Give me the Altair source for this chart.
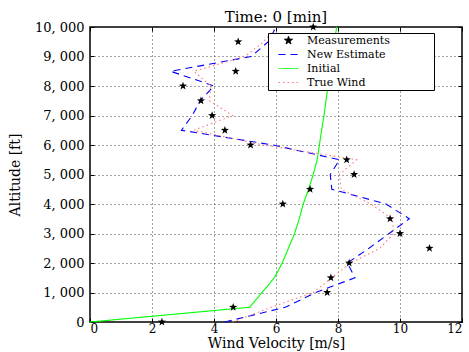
import altair as alt
import pandas as pd

# ---- data ----
altitudes = list(range(0, 10001, 500))  # ft

measurements = [2.32, 4.62, 7.65, 7.77, 8.36, 10.95, 10.0, 9.68, 6.22, 7.1,
                8.52, 8.28, 5.18, 4.35, 3.94, 3.58, 3.0, 4.7, 7.0, 4.78, 7.2]
new_estimate = [4.35, 6.3, 7.28, 8.55, 8.3, 9.0, 9.65, 10.3, 9.55, 7.8,
                7.75, 8.05, 5.9, 2.95, 3.3, 3.55, 4.0, 2.6, 5.2, 5.75, 6.0]
initial = [0.0, 5.15, 5.55, 5.95, 6.2, 6.4, 6.6, 6.75, 6.88, 7.05,
           7.2, 7.33, 7.4, 7.47, 7.55, 7.61, 7.68, 7.76, 7.82, 7.88, 7.96]
true_wind = [4.6, 5.85, 7.2, 7.8, 8.4, 9.35, 9.8, 9.75, 9.05, 8.1,
             8.05, 8.6, 5.6, 3.35, 4.6, 3.85, 3.9, 3.35, 5.0, 5.6, 6.0]

series_names = ["Measurements", "New Estimate", "Initial", "True Wind"]
series_colors = ["black", "#0000ff", "#00ff00", "#ff7878"]
series_dashes = [[1, 0], [7, 5], [1, 0], [1.5, 3]]

x_ticks = [0, 2, 4, 6, 8, 10, 12]
y_ticks = list(range(0, 10001, 1000))

rows = []
for name, vals in [("New Estimate", new_estimate), ("Initial", initial), ("True Wind", true_wind)]:
    for a, v in zip(altitudes, vals):
        rows.append({"series": name, "alt": a, "vel": v})
lines_df = pd.DataFrame(rows)
meas_df = pd.DataFrame({"series": "Measurements", "alt": altitudes, "vel": measurements})

FONT = "DejaVu Serif"

# star symbol and a long stroke symbol, both in symbol units (scaled by sqrt(size)/2)
STAR = ("M0,-0.86L0.2,-0.28L0.82,-0.26L0.33,0.11L0.5,0.69L0,0.35"
        "L-0.5,0.69L-0.33,0.11L-0.82,-0.26L-0.2,-0.28Z")
LONG_STROKE = "M-2,0H2"
series_shapes = [STAR, LONG_STROKE, LONG_STROKE, LONG_STROKE]

xscale = alt.Scale(domain=[0, 12], nice=False, zero=False)
yscale = alt.Scale(domain=[0, 10000], nice=False, zero=False)
color_scale = alt.Scale(domain=series_names, range=series_colors)
dash_scale = alt.Scale(domain=series_names, range=series_dashes)
shape_scale = alt.Scale(domain=series_names, range=series_shapes)

legend = alt.Legend(
    title=None, orient="none", legendX=178, legendY=6, direction="vertical",
    fillColor="white",
    rowPadding=2, symbolOffset=13, labelOffset=13,
    labelFont=FONT, labelFontSize=11, labelColor="black",
    labelExpr="datum.label + '            \u200b'",
    symbolSize=100, symbolStrokeWidth=1, symbolOpacity=1,
)

grid_kw = dict(grid=True, gridDash=[1, 3], gridColor="#444444", gridWidth=1,
               domain=False, ticks=False, labelOverlap=False)

lines = alt.Chart(lines_df).mark_line(strokeWidth=1.1).encode(
    x=alt.X("vel:Q", scale=xscale,
            axis=alt.Axis(values=x_ticks, format="d", labelPadding=1, labelFontSize=12,
                          title="Wind Velocity [m/s]", titleY=25,
                          titleBaseline="alphabetic", **grid_kw)),
    y=alt.Y("alt:Q", scale=yscale,
            axis=alt.Axis(values=y_ticks, labelPadding=6,
                          labelExpr="datum.value == 0 ? '0' : replace(format(datum.value, ','), ',', ', ')",
                          title="Altitude [ft]", titleX=-75, titleBaseline="middle",
                          **grid_kw)),
    color=alt.Color("series:N", scale=color_scale, legend=legend),
    strokeDash=alt.StrokeDash("series:N", scale=dash_scale, legend=legend),
    order=alt.Order("alt:Q"),
)

tick_kw = dict(ticks=True, tickSize=4, tickColor="black", tickWidth=1,
               labels=False, domain=False, grid=False, title=None, offset=-4)

points = alt.Chart(meas_df).mark_point(filled=True, size=100, opacity=1).encode(
    x=alt.X("vel:Q", scale=xscale, axis=alt.Axis(orient="top", values=x_ticks, **tick_kw)),
    y=alt.Y("alt:Q", scale=yscale, axis=alt.Axis(orient="right", values=y_ticks, **tick_kw)),
    color=alt.Color("series:N", scale=color_scale, legend=legend),
    shape=alt.Shape("series:N", scale=shape_scale, legend=legend),
)

ghost = alt.Chart(meas_df).mark_point(opacity=0).encode(
    x=alt.X("vel:Q", scale=xscale, axis=alt.Axis(orient="bottom", values=x_ticks, **tick_kw)),
    y=alt.Y("alt:Q", scale=yscale, axis=alt.Axis(orient="left", values=y_ticks, **tick_kw)),
)

chart = alt.layer(lines, points, ghost).resolve_axis(
    x="independent", y="independent"
).properties(
    width=372, height=295,
    title=alt.TitleParams("Time: 0 [min]", font=FONT, fontSize=15, fontWeight="normal",
                          color="black", anchor="middle", offset=-4),
    padding={"left": 90, "top": 27, "right": 7, "bottom": 30},
    autosize=alt.AutoSizeParams(type="none"),
    background="white",
).configure_view(
    stroke="black", strokeWidth=1.5
).configure_axis(
    labelFont=FONT, labelFontSize=13, labelColor="black",
    titleFont=FONT, titleFontSize=14, titleFontWeight="normal", titleColor="black",
).configure_legend(
    strokeColor="black", strokeWidth=1, cornerRadius=0, padding=2,
)

chart.save("out.html", embed_options={"renderer": "svg", "actions": False})
